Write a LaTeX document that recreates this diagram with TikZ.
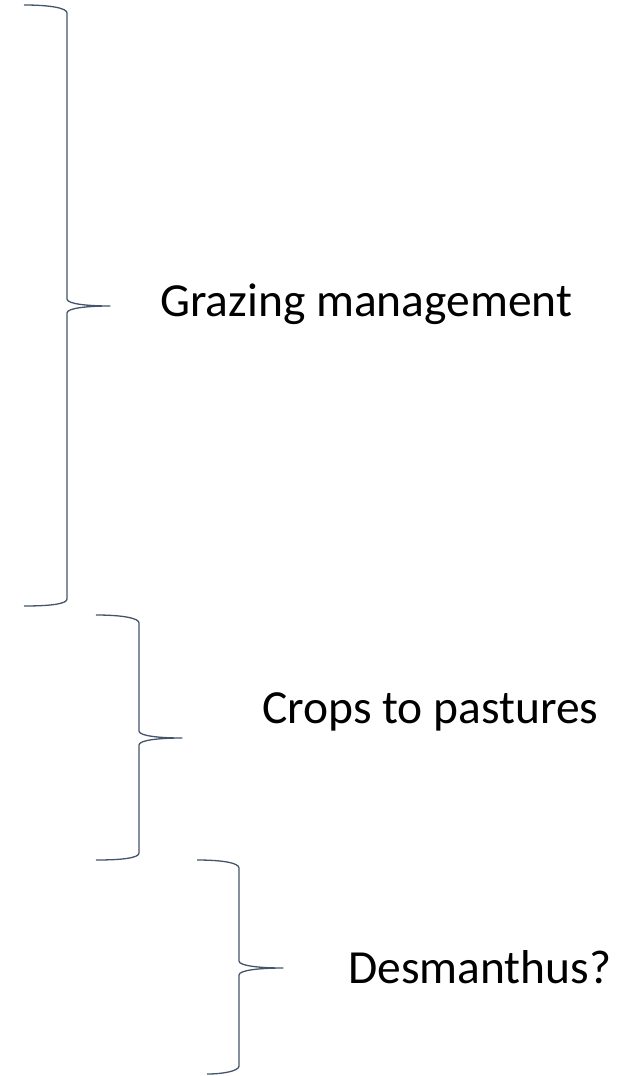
\documentclass[tikz,border=0pt]{standalone}
\usepackage{fontspec}
\setmainfont{Carlito}
\definecolor{bracecol}{RGB}{68,84,106}
\tikzset{
  bracelin/.style={draw=bracecol, line width=1.3pt, line join=round},
  lbl/.style={anchor=base west, inner sep=0pt, font=\fontsize{47.5}{54}\selectfont, text=black}
}
\begin{document}
\begin{tikzpicture}[x=1pt,y=-1pt]
\useasboundingbox (0,0) rectangle (634,1076);
% brace 1
\draw[bracelin] (24,5) .. controls (50,5) and (67,8) .. (67,13) -- (67,299)
  .. controls (67,304) and (88,306) .. (110,306)
  .. controls (88,306) and (67,308) .. (67,313) -- (67,599)
  .. controls (67,604) and (50,606) .. (24,606);
% brace 2
\draw[bracelin] (96,615) .. controls (122,615) and (139,618) .. (139,623) -- (139,731)
  .. controls (139,736) and (160,738) .. (182,738)
  .. controls (160,738) and (139,740) .. (139,745) -- (139,853)
  .. controls (139,858) and (122,860) .. (96,860);
% brace 3
\draw[bracelin] (197,860) .. controls (223,860) and (239,863) .. (239,868) -- (239,961)
  .. controls (239,966) and (261,968) .. (283,968)
  .. controls (261,968) and (239,970) .. (239,975) -- (239,1066)
  .. controls (239,1071) and (223,1074) .. (207,1074);
\node[lbl] (t1) at (160,316.5) {Grazing management};
\node[lbl] (t2) at (262,723.5) {Crops to pastures};
\node[lbl] (t3) at (348,983) {Desmanthus?};
\end{tikzpicture}
\end{document}
